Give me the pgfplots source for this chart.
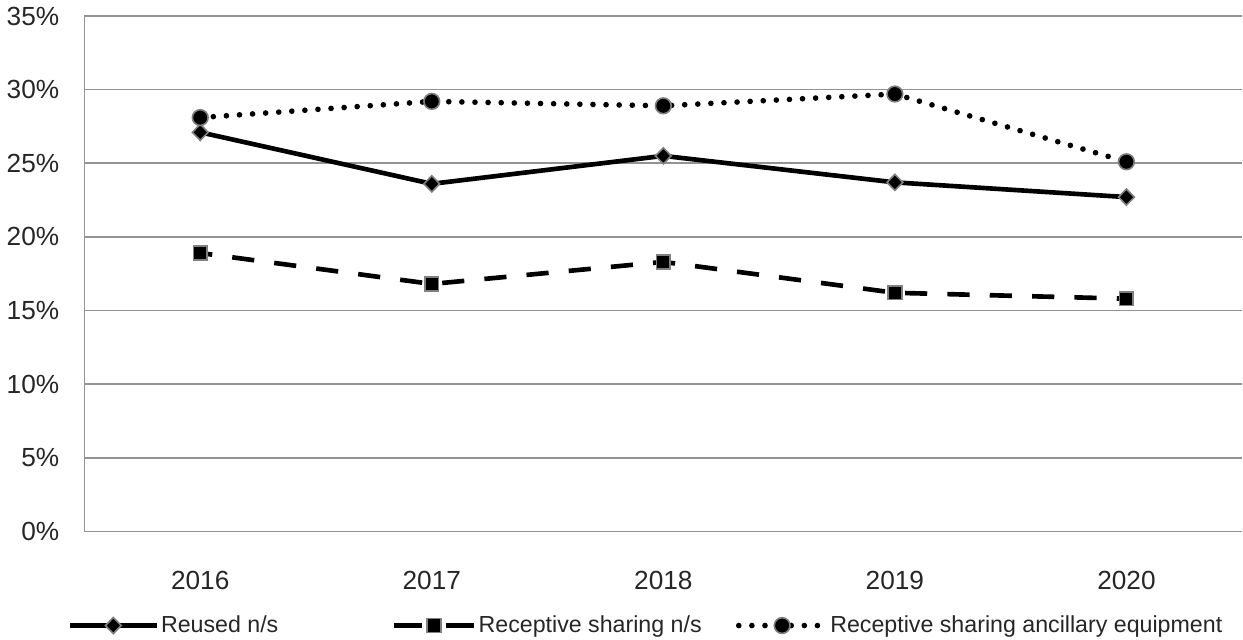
\documentclass[border=0pt]{standalone}
\usepackage{fontspec}
\setmainfont{Liberation Sans}
\usepackage{pgfplots}
\pgfplotsset{compat=1.18}
\pgfplotsset{dashlegend/.style={legend image code/.code={%
  \draw[##1, mark=none, solid] (0pt,0pt) -- (14pt,0pt) (26pt,0pt) -- (40pt,0pt);
  \draw[##1, only marks] plot coordinates {(20pt,0pt)};}}}
\begin{document}
\begin{tikzpicture}
\begin{axis}[
scale only axis,
width=574pt, height=255.5pt,
xmin=-0.5, xmax=4.5,
ymin=0, ymax=0.35,
xtick={0,1,2,3,4},
xticklabels={2016,2017,2018,2019,2020},
ytick={0,0.05,0.10,0.15,0.20,0.25,0.30,0.35},
yticklabels={0\%,5\%,10\%,15\%,20\%,25\%,30\%,35\%},
ymajorgrids=true,
grid style={gray!85, line width=0.8pt},
axis x line*=bottom, axis y line*=left,
axis line style={gray!85, line width=0.8pt, -},
major tick length=0pt,
tick label style={font=\fontsize{13}{15}\selectfont, text=black!85},
yticklabel style={xshift=-9pt},
xticklabel style={yshift=-16pt},
legend columns=3,
legend style={at={(0.485,-0.155)}, anchor=north, draw=none,
  font=\fontsize{11.5}{14}\selectfont, text=black!85,
  /tikz/column 2/.style={column sep=55pt},
  /tikz/column 4/.style={column sep=16pt},
  nodes={inner xsep=1pt},
  inner sep=0pt},
legend image code/.code={\draw[#1, mark=none] (0pt,0pt) -- (43pt,0pt);
  \draw[#1, only marks] plot coordinates {(21.5pt,0pt)};},
]
\addplot[black, line width=2.3pt, mark=diamond*, mark size=4pt,
  mark options={fill=black, draw=gray, line width=0.8pt, solid, xscale=1.3}]
coordinates {(0,0.271)(1,0.236)(2,0.255)(3,0.237)(4,0.227)};
\addplot[black, line width=2.3pt, dash pattern=on 11pt off 10pt, dash phase=5pt, mark=square*, mark size=3.4pt,
  mark options={fill=black, draw=gray, line width=0.8pt, solid}, dashlegend]
coordinates {(0,0.189)(1,0.168)(2,0.183)(3,0.162)(4,0.158)};
\addplot[black, line width=2.8pt, line cap=round, dash pattern=on 0pt off 6.5pt, mark=*, mark size=3.9pt,
  mark options={fill=black, draw=gray, line width=0.8pt, solid}]
coordinates {(0,0.281)(1,0.292)(2,0.289)(3,0.297)(4,0.251)};
\legend{Reused n/s, Receptive sharing n/s, Receptive sharing ancillary equipment}
\end{axis}
\end{tikzpicture}
\end{document}
